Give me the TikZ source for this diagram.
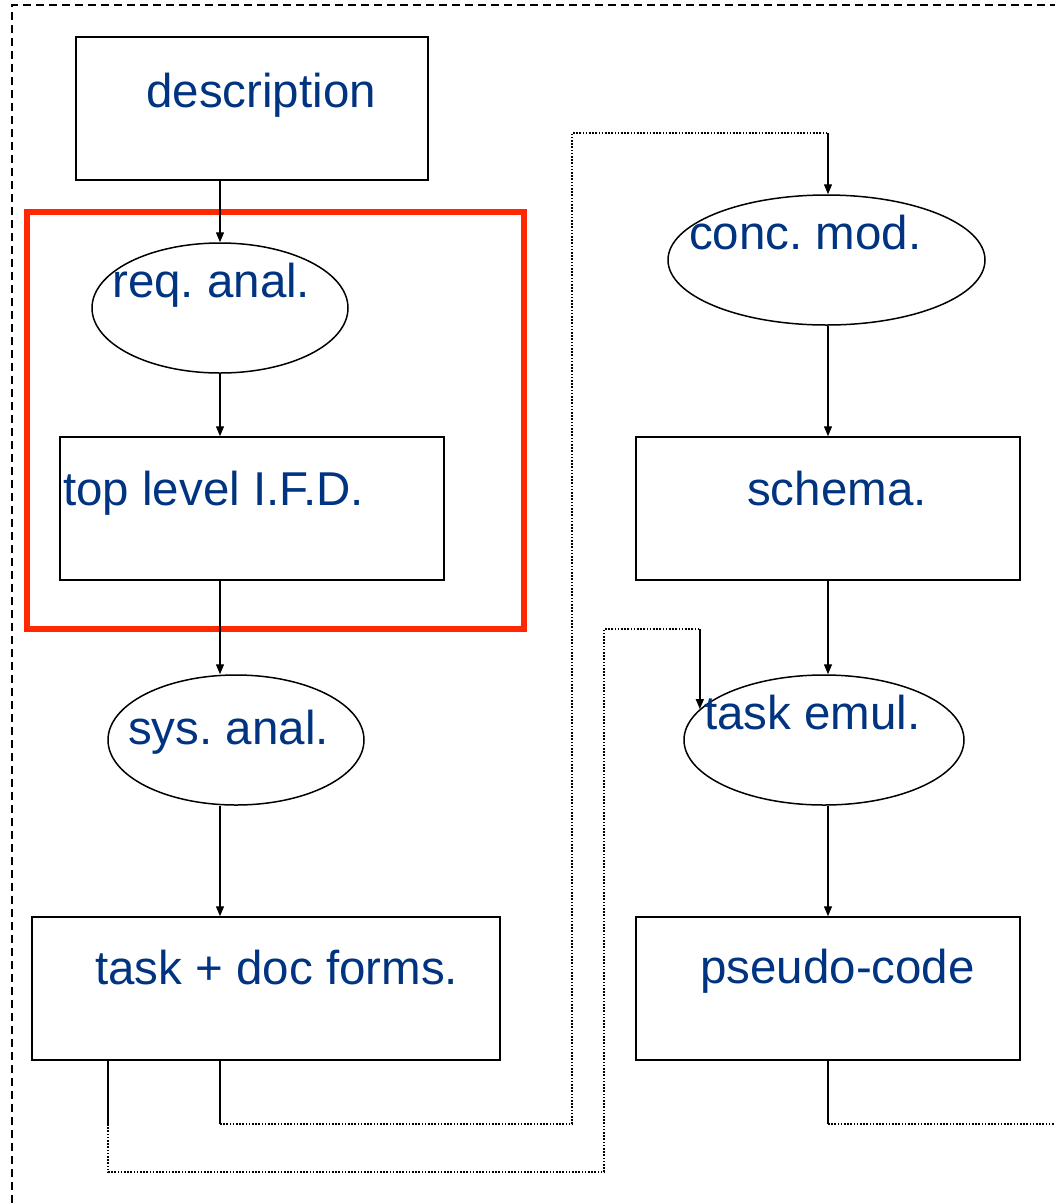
\documentclass[tikz,border=0pt]{standalone}
\usepackage{fontspec}
\setmainfont{Liberation Sans}
\usetikzlibrary{shapes.geometric,arrows.meta}
\definecolor{labelblue}{RGB}{0,51,128}
\definecolor{framered}{RGB}{255,40,0}
\tikzset{
  stage/.style={draw,line width=1.5pt,minimum width=#1,minimum height=143pt,inner sep=0pt},
  activity/.style={ellipse,draw,line width=1.5pt,minimum width=#1,minimum height=130pt,inner sep=0pt},
  lbl/.style={anchor=base west,inner sep=0pt,text=labelblue,font=\fontsize{47.5}{52}\selectfont\frenchspacing},
  flow/.style={line width=1.4pt,-{Triangle[length=10pt,width=8pt]}},
  stub/.style={line width=1.4pt},
  backlink/.style={line width=1.6pt,dash pattern=on 1.6pt off 1.6pt},
}
\begin{document}
\begin{tikzpicture}[x=1pt,y=-1pt]
\useasboundingbox (0,0) rectangle (1055,1203);
\draw[line width=1.4pt,dash pattern=on 8pt off 5pt] (12,1203) -- (12,5) -- (1055,5);
\node[draw=framered,line width=6pt,minimum width=497pt,minimum height=417pt,inner sep=0pt] (frame) at (275.5,420.5) {};

\node[stage=352pt] (desc) at (252,108.5) {};
\node[activity=256pt] (req) at (220,308) {};
\node[stage=384pt] (top) at (252,508.5) {};
\node[activity=256pt] (sys) at (236,740) {};
\node[stage=468pt] (task) at (266,988.5) {};
\node[activity=317pt] (conc) at (826.5,260) {};
\node[stage=384pt] (schema) at (828,508.5) {};
\node[activity=280pt] (emul) at (824,740) {};
\node[stage=384pt] (pseudo) at (828,988.5) {};

\node[lbl] at (146,107) {description};
\node[lbl] at (112,297) {req. anal.};
\node[lbl] at (63,505) {top level I.F.D.};
\node[lbl] at (128,744) {sys. anal.};
\node[lbl] at (95,984) {task + doc forms.};
\node[lbl] at (689,249) {conc. mod.};
\node[lbl] at (747,505) {schema.};
\node[lbl] at (704,729) {task emul.};
\node[lbl] at (700,983) {pseudo-code};

\draw[flow] (desc.south -| req.north) -- (req.north);
\draw[flow] (req.south) -- (req.south |- top.north);
\draw[flow] (top.south -| req.south) -- (sys.north -| req.south);
\draw[flow] (sys.south -| req.south) -- (task.north -| req.south);
\draw[flow] (conc.south -| schema.north) -- (schema.north);
\draw[flow] (schema.south) -- (emul.north -| schema.south);
\draw[flow] (emul.south -| schema.south) -- (pseudo.north);

% returns from the lower boxes
\coordinate (aDown) at (220,1124);
\coordinate (aUp) at (572,133);
\coordinate (aTurn) at (828,133);
\draw[stub] (task.south -| aDown) -- (aDown);
\draw[backlink] (aDown) -| (aUp) -- (aTurn);
\draw[flow] (aTurn) -- (aTurn |- conc.north);

\coordinate (bDown) at (108,1124);
\coordinate (bLow) at (604,1172);
\coordinate (bLevel) at (0,629);
\coordinate (bTurn) at (emul.166 |- bLevel);
\draw[stub] (task.south -| bDown) -- (bDown);
\draw[backlink] (bDown) |- (bLow) |- (bTurn);
\draw[flow] (bTurn) -- (emul.166);

\coordinate (cDown) at (828,1124);
\coordinate (cOut) at (1055,1124);
\draw[stub] (pseudo.south -| cDown) -- (cDown);
\draw[backlink] (cDown) -- (cOut);
\end{tikzpicture}
\end{document}
